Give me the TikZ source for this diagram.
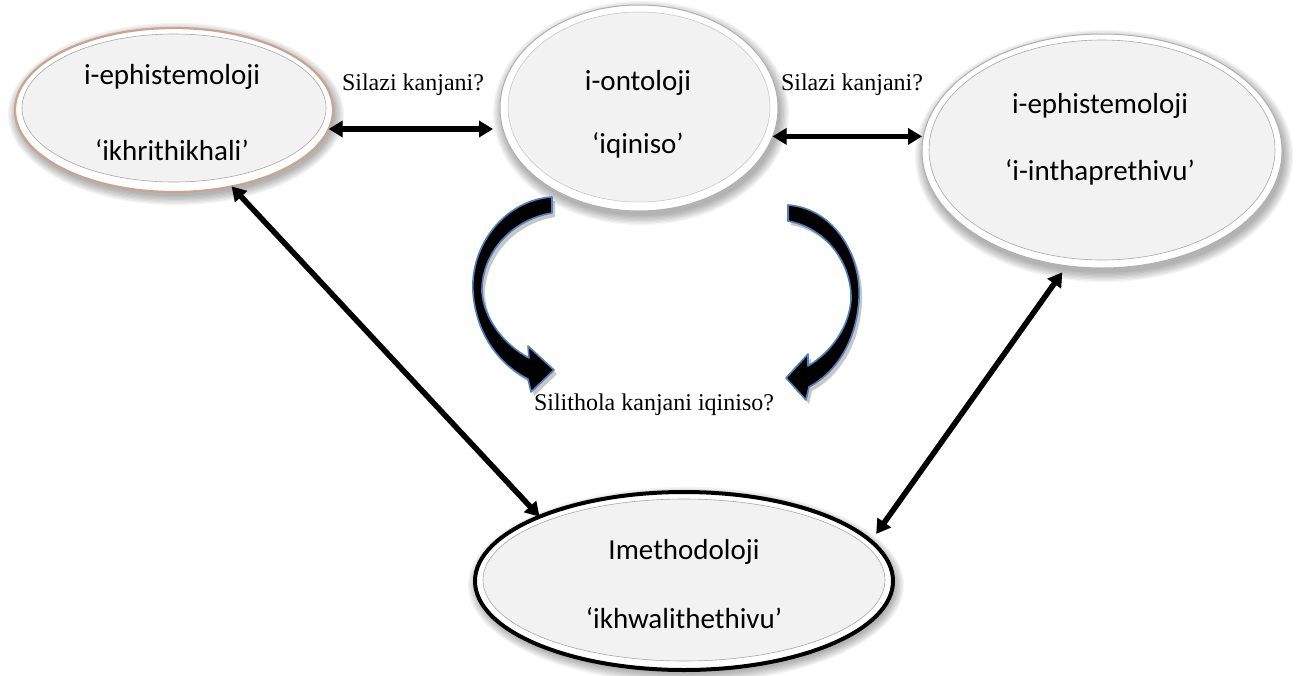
\documentclass[tikz,border=0pt]{standalone}
\usepackage{fontspec}
\setmainfont{Carlito}
\newfontfamily\labelfont{Liberation Serif}
\usetikzlibrary{shapes.geometric,arrows.meta,calc}

\definecolor{ovalfill}{HTML}{F2F2F2}
\definecolor{rimline}{HTML}{A8A8A8}
\definecolor{rimtan}{HTML}{C9A490}
\definecolor{rimgray}{HTML}{B0B0B0}
\definecolor{arrowblue}{HTML}{4F81BD}

\tikzset{
  oval/.style={ellipse, inner sep=0pt, outer sep=0pt},
  softshadow/.style={fill=black, opacity=0.045},
  bigtext/.style={font=\fontsize{29}{34}\selectfont, inner sep=0pt},
  asklabel/.style={font=\labelfont\fontsize{24}{28}\selectfont, inner sep=0pt},
  link/.style={line width=5.5pt,
    {Triangle[length=14pt,width=16pt]}-{Triangle[length=14pt,width=16pt]}},
  linkshadow/.style={link, draw=black, opacity=0.18, xshift=2pt, yshift=-3pt},
  bendarrow/.style={fill=black, draw=arrowblue, line width=1.6pt, line join=round},
  bendshadow/.style={fill=black, opacity=0.22, xshift=3pt, yshift=-4pt},
}

% soft halo under an oval: centre x, centre y, x radius, y radius
\newcommand\ovalhalo[4]{%
  \foreach \k in {0,...,7}
    \fill[softshadow] (#1, #2) ellipse ({#3+\k*1.3} and {#4+\k*1.3});
}

\begin{document}
\begin{tikzpicture}[x=1pt, y=-1pt]
\useasboundingbox (0,0) rectangle (1296,675);

% ---------- ovals ----------
% left: i-ephistemoloji 'ikhrithikhali'
\ovalhalo{176}{114}{159}{82}
\node[oval, fill=white, draw=rimtan, line width=2.2pt,
      minimum width=318pt, minimum height=164pt] (L) at (174,110) {};
\node[oval, fill=ovalfill, draw=rimline, line width=0.6pt,
      minimum width=304pt, minimum height=148pt] (Lin) at (174,108) {};

% middle: i-ontoloji 'iqiniso'
\ovalhalo{641}{113}{139}{103}
\node[oval, fill=white, draw=rimgray, line width=1pt,
      minimum width=278pt, minimum height=206pt] (M) at (639,108) {};
\node[oval, fill=ovalfill, draw=rimline!70, line width=0.5pt,
      minimum width=262pt, minimum height=190pt] (Min) at (639,107) {};

% right: i-ephistemoloji 'i-inthaprethivu'
\ovalhalo{1104}{156}{180}{117}
\node[oval, fill=white, draw=rimgray, line width=1pt,
      minimum width=360pt, minimum height=234pt] (R) at (1102,151) {};
\node[oval, fill=ovalfill, draw=rimline, line width=0.6pt,
      minimum width=346pt, minimum height=220pt] (Rin) at (1102,150) {};

% bottom: Imethodoloji 'ikhwalithethivu'
\ovalhalo{686}{585}{209}{89}
\node[oval, fill=white, draw=black, line width=4pt,
      minimum width=418pt, minimum height=178pt] (B) at (684,581) {};
\node[oval, fill=ovalfill, draw=rimline, line width=0.6pt,
      minimum width=402pt, minimum height=162pt] (Bin) at (684,580) {};

% ---------- oval texts ----------
\node[bigtext] (Lt1) at (172,77)  {i-ephistemoloji};
\node[bigtext] (Lt2) at (172,150) {‘ikhrithikhali’};
\node[bigtext] (Mt1) at (638,83)  {i-ontoloji};
\node[bigtext] (Mt2) at (638,145) {‘iqiniso’};
\node[bigtext] (Rt1) at (1100,106) {i-ephistemoloji};
\node[bigtext] (Rt2) at (1100,172) {‘i-inthaprethivu’};
\node[bigtext] (Bt1) at (684,552) {Imethodoloji};
\node[bigtext] (Bt2) at (684,618) {‘ikhwalithethivu’};

% ---------- question labels ----------
\node[asklabel] (q1) at (413,85)  {Silazi kanjani?};
\node[asklabel] (q2) at (852,85)  {Silazi kanjani?};
\node[asklabel] (q3) at (654,405) {Silithola kanjani iqiniso?};

% ---------- straight double arrows ----------
\draw[linkshadow, shorten >=7pt] (L.-7.6) -- (L.-7.6 -| M.west);
\draw[link, shorten >=7pt] (L.-7.6) -- (L.-7.6 -| M.west);
\draw[linkshadow] (M.-12.3) -- (M.-12.3 -| R.west);
\draw[link] (M.-12.3) -- (M.-12.3 -| R.west);
\draw[linkshadow] (L.-53) -- (B.156);
\draw[link] (L.-53) -- (B.156);
\draw[linkshadow, shorten <=8pt, shorten >=9pt] (R.-107) -- (B.12);
\draw[link, shorten <=8pt, shorten >=9pt] (R.-107) -- (B.12);

% ---------- curved block arrows ----------
\def\leftbend{(552,197) .. controls (505,200) and (470,245) .. (473,292)
  .. controls (476,335) and (500,365) .. (528,379)
  -- (531,392) -- (554,370) -- (528,346) -- (529,358)
  .. controls (505,345) and (484,320) .. (482,292)
  .. controls (481,255) and (510,220) .. (552,213) -- cycle}
\def\rightbend{(788,205) .. controls (832,208) and (862,253) .. (859,300)
  .. controls (856,343) and (835,373) .. (809,387)
  -- (806,400) -- (786,378) -- (808,354) -- (808,366)
  .. controls (830,353) and (849,328) .. (851,300)
  .. controls (852,263) and (826,228) .. (788,221) -- cycle}
\fill[bendshadow] \leftbend;
\fill[bendshadow] \rightbend;
\path[bendarrow] \leftbend;
\path[bendarrow] \rightbend;

\end{tikzpicture}
\end{document}
